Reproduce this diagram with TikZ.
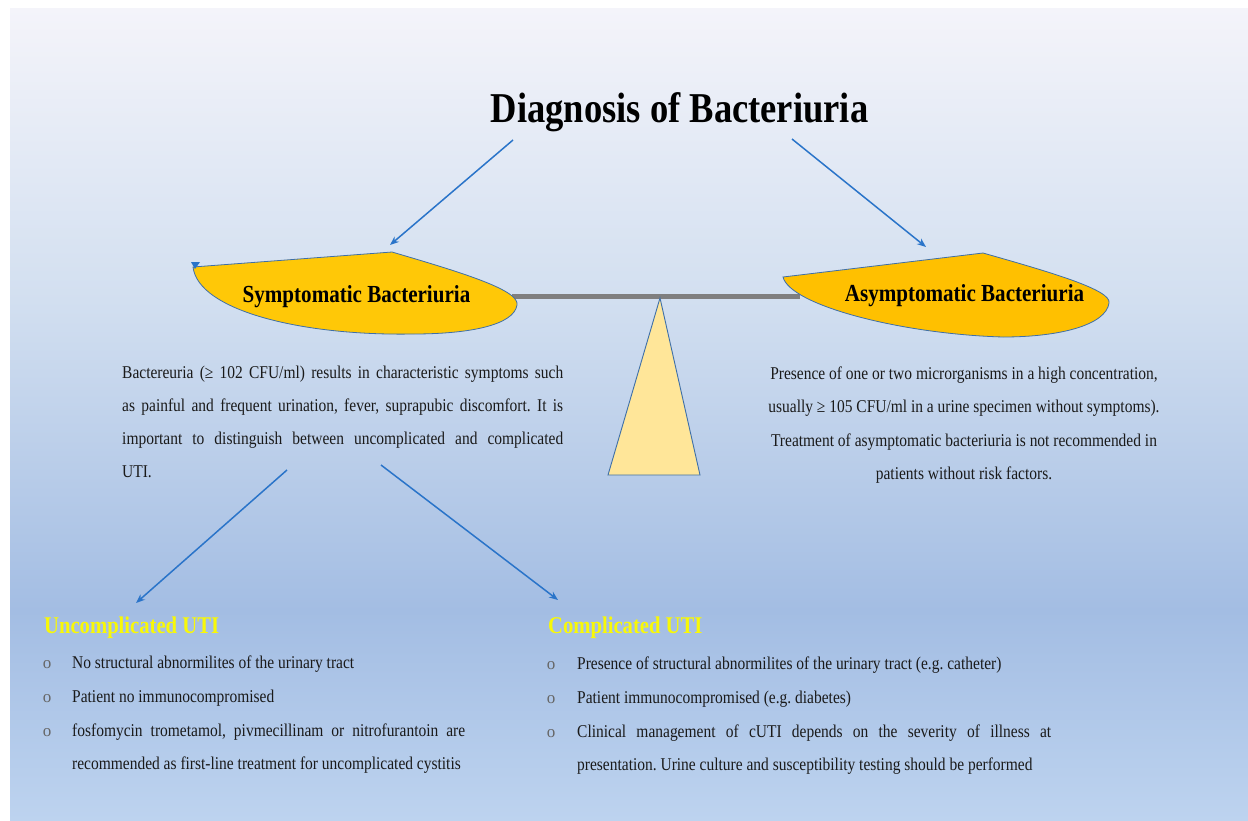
\documentclass[tikz,border=0pt]{standalone}
\usepackage{fontspec}
\setmainfont{Liberation Serif}[FakeStretch=0.86]
\newfontfamily\bulfont{Liberation Serif}
\usetikzlibrary{arrows.meta}
\definecolor{bgA}{HTML}{F4F4FA}
\definecolor{bgB}{HTML}{D2DFF0}
\definecolor{bgC}{HTML}{A3BDE3}
\definecolor{bgD}{HTML}{BDD3EF}
\definecolor{leafL}{HTML}{FFC807}
\definecolor{leafR}{HTML}{FFC000}
\definecolor{leafedge}{HTML}{3E6FA8}
\definecolor{fulcrum}{HTML}{FFE699}
\definecolor{arrblue}{HTML}{2A74C9}
\definecolor{beam}{HTML}{7F7F7F}
\definecolor{txt}{HTML}{1A1A1A}
\definecolor{hyellow}{HTML}{F8F808}
\begin{document}
\frenchspacing
\begin{tikzpicture}[x=1pt,y=-1pt,
  body/.style={font=\fontsize{18}{22}\selectfont, text=txt, inner sep=0pt, anchor=base west},
  bodyc/.style={body, anchor=base},
  lbl/.style={font=\bfseries\fontsize{24.5}{28}\selectfont, text=black, inner sep=0pt, anchor=base},
  hdr/.style={font=\bfseries\fontsize{24}{28}\selectfont, text=hyellow, inner sep=0pt, anchor=base west},
  bul/.style={font=\bulfont\fontsize{17}{19}\selectfont, text=black!60, inner sep=0pt, anchor=base},
  arr/.style={draw=arrblue, line width=1.5pt, -{Stealth[length=9pt,width=7pt]}},
  leaf/.style={draw=leafedge, line width=0.8pt}]
\useasboundingbox (0,0) rectangle (1248,820);
\fill[white] (0,0) rectangle (1248,820);
% background panel
\shade[top color=bgA, bottom color=bgB] (10,8) rectangle (1248,301);
\shade[top color=bgB, bottom color=bgC] (10,300) rectangle (1248,611);
\shade[top color=bgC, bottom color=bgD] (10,610) rectangle (1248,820);

% title
\node[font=\bfseries\fontsize{42.5}{46}\selectfont, inner sep=0pt, anchor=base] (title) at (679.5,122) {Diagnosis of Bacteriuria};
\coordinate (tL) at (513,140);
\coordinate (tR) at (792,139);

% beam
\draw[beam, line width=5pt] (512,296) -- (800,296);
% fulcrum
\draw[fill=fulcrum, draw=leafedge, line width=0.9pt] (660,298) -- (700,475) -- (608,475) -- cycle;

% left leaf
\draw[leaf, fill=leafL] (193,267) -- (392,252)
  .. controls (460,272) and (520,290) .. (517,305)
  .. controls (514,325) and (470,334) .. (413,334)
  .. controls (300,336) and (198,310) .. (193,267) -- cycle;
\fill[arrblue] (191,262) -- (200,262) -- (195,269) -- cycle;
% right leaf
\draw[leaf, fill=leafR] (783,277) -- (983,253)
  .. controls (1050,272) and (1112,290) .. (1109,303)
  .. controls (1106,325) and (1060,337) .. (1003,337)
  .. controls (900,334) and (790,305) .. (783,277) -- cycle;

\node[lbl] (sym) at (356.5,302) {Symptomatic Bacteriuria};
\node[lbl] (asym) at (964.5,301) {Asymptomatic Bacteriuria};
\coordinate (symTop) at (390,245);
\coordinate (asymTop) at (926,247);

\draw[arr] (tL) -- (symTop);
\draw[arr] (tR) -- (asymTop);

% left paragraph
\node[body] (p1) at (122,378) {\makebox[441pt][s]{Bactereuria (≥ 102 CFU/ml) results in characteristic symptoms such}};
\node[body] (p2) at (122,411) {\makebox[441pt][s]{as painful and frequent urination, fever, suprapubic discomfort. It is}};
\node[body] (p3) at (122,444) {\makebox[441pt][s]{important to distinguish between uncomplicated and complicated}};
\node[body] (p4) at (122,477) {UTI.};

% right paragraph
\node[bodyc] (q1) at (964,379) {Presence of one or two microrganisms in a high concentration,};
\node[bodyc] (q2) at (964,412) {usually ≥ 105 CFU/ml in a urine specimen without symptoms).};
\node[bodyc] (q3) at (964,446) {Treatment of asymptomatic bacteriuria is not recommended in};
\node[bodyc] (q4) at (964,479) {patients without risk factors.};

% lower arrows
\coordinate (pL) at (287,470);
\coordinate (pR) at (381,465);
\coordinate (uTop) at (136,603);
\coordinate (cTop) at (558,600);
\draw[arr] (pL) -- (uTop);
\draw[arr] (pR) -- (cTop);

% uncomplicated
\node[hdr] (unc) at (44,633) {Uncomplicated UTI};
\node[bul] (ub1) at (47,668) {o};
\node[bul] (ub2) at (47,702) {o};
\node[bul] (ub3) at (47,736) {o};
\node[body] (u1) at (72,668) {No structural abnormilites of the urinary tract};
\node[body] (u2) at (72,702) {Patient no immunocompromised};
\node[body] (u3) at (72,736) {\makebox[393pt][s]{fosfomycin trometamol, pivmecillinam or nitrofurantoin are}};
\node[body] (u4) at (72,769) {recommended as first-line treatment for uncomplicated cystitis};

% complicated
\node[hdr] (com) at (548,633) {Complicated UTI};
\node[bul] (cb1) at (551,669) {o};
\node[bul] (cb2) at (551,703) {o};
\node[bul] (cb3) at (551,737) {o};
\node[body] (c1) at (577,669) {Presence of structural abnormilites of the urinary tract (e.g. catheter)};
\node[body] (c2) at (577,703) {Patient immunocompromised (e.g. diabetes)};
\node[body] (c3) at (577,737) {\makebox[474pt][s]{Clinical management of cUTI depends on the severity of illness at}};
\node[body] (c4) at (577,770) {presentation. Urine culture and susceptibility testing should be performed};
\end{tikzpicture}
\end{document}
